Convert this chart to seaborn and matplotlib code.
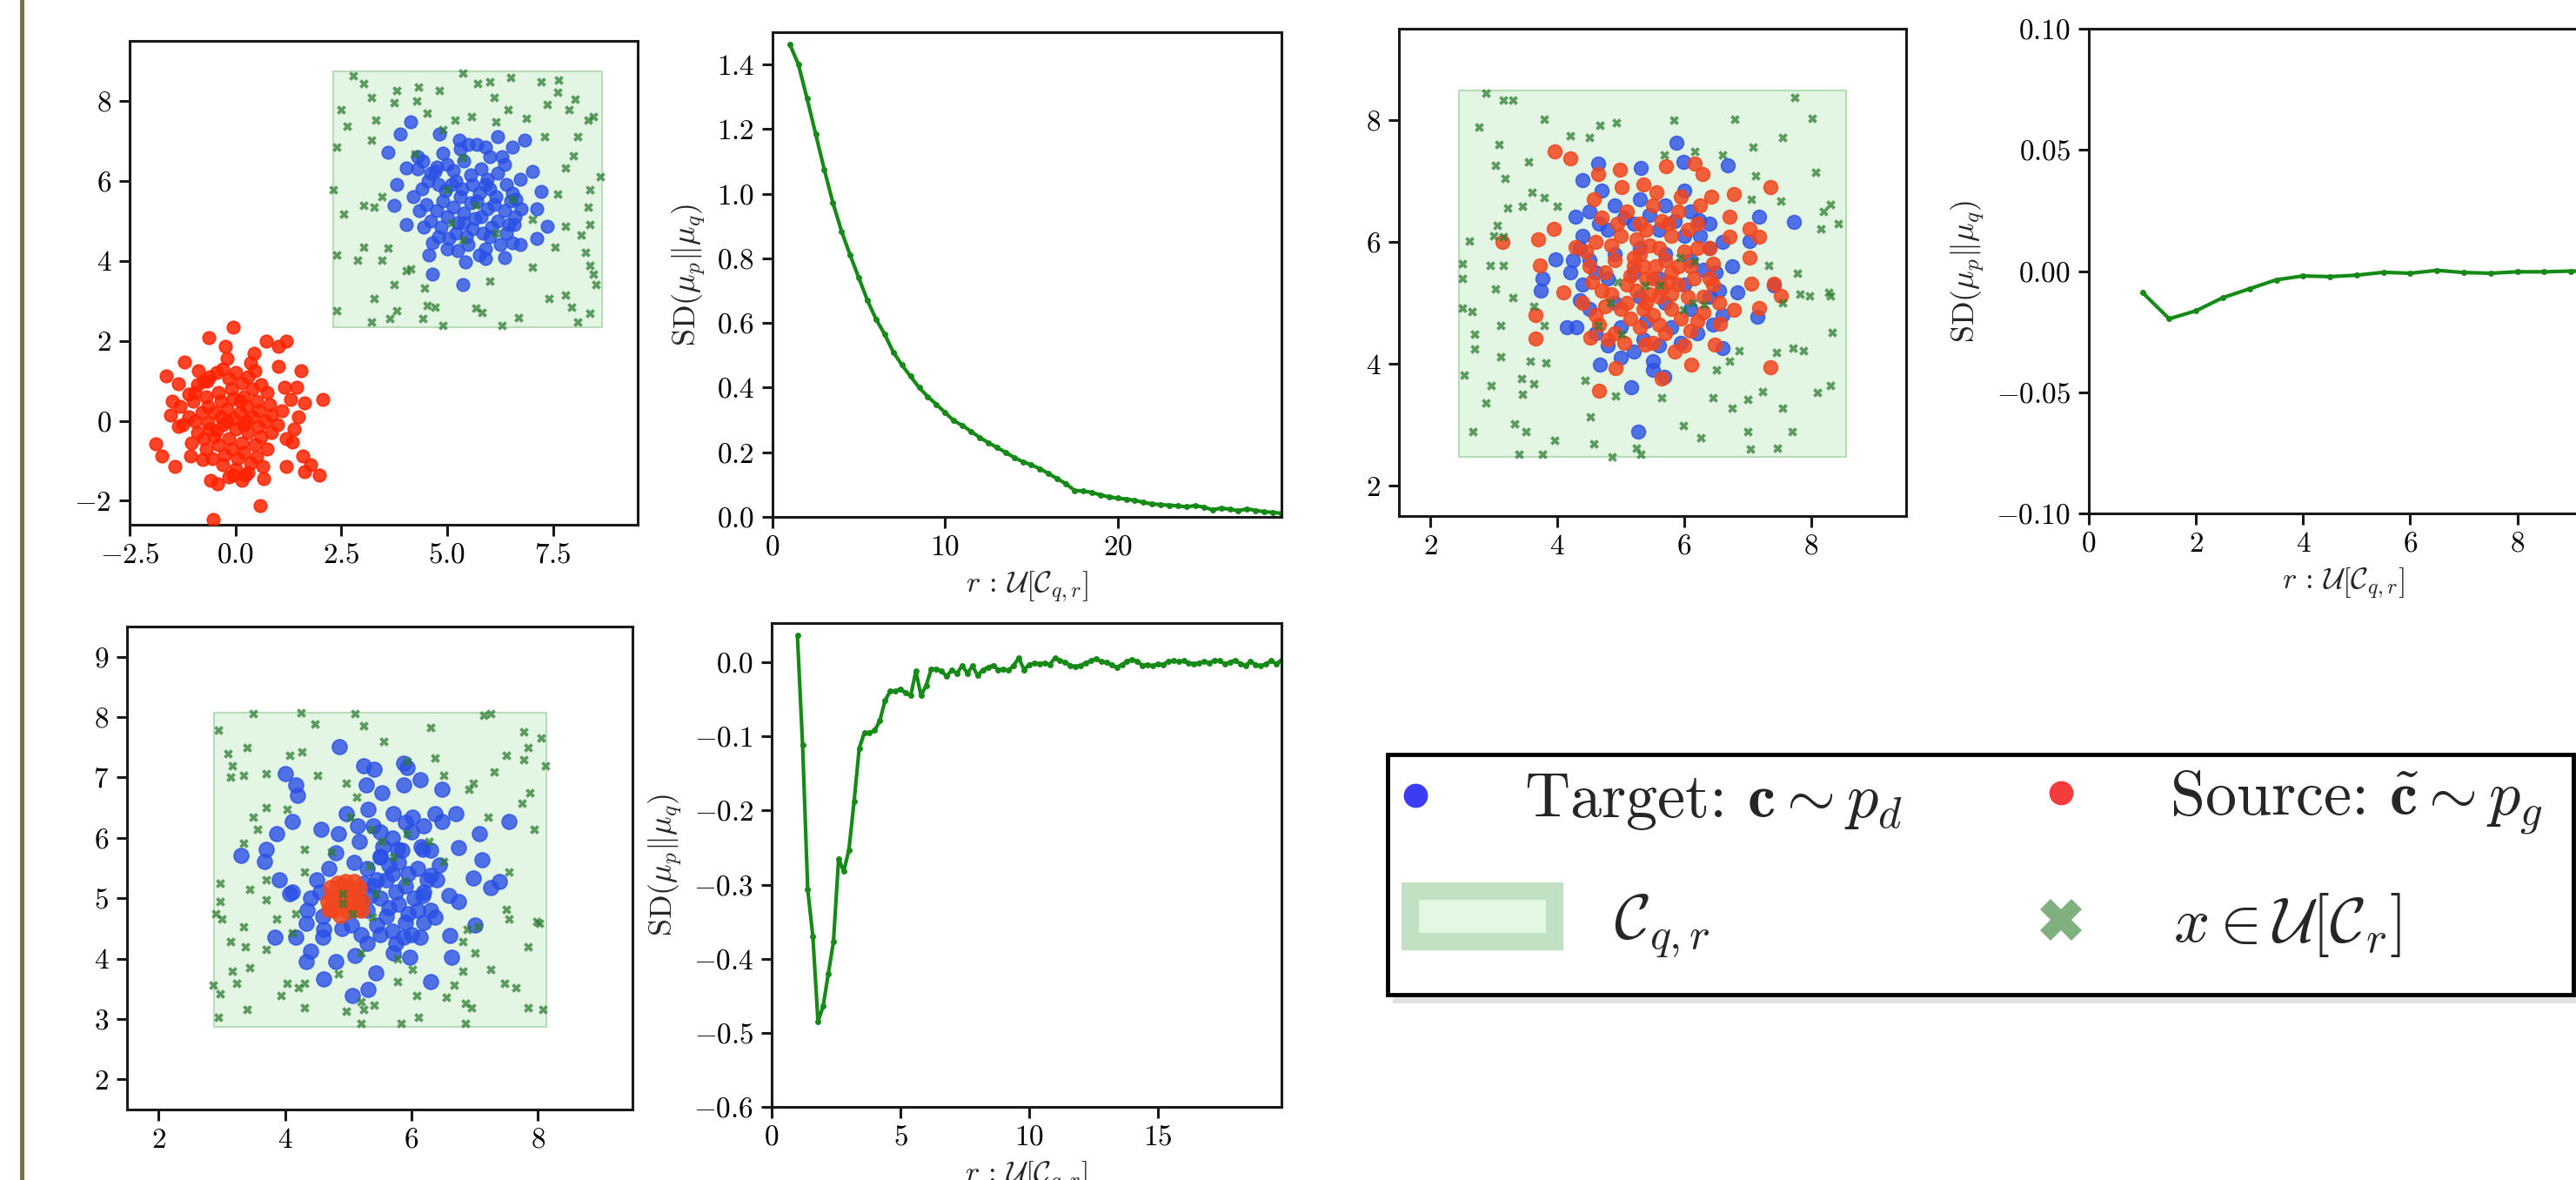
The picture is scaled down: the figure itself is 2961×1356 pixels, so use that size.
import numpy as np
import seaborn as sns
import matplotlib.pyplot as plt
from matplotlib.patches import Rectangle, Patch
from matplotlib.lines import Line2D

# ---------------- data ----------------
# panel 1 : separated clouds
p1_red = [(-0.62, 2.08), (-0.05, 2.33), (-0.24, 1.86), (0.72, 1.99), (1.01, 1.86), (1.2, 1.99), (0.43, 1.69),
          (-1.2, 1.48), (-1.63, 1.13), (-0.87, 1.26), (-1.35, 0.92), (1.01, 1.35), (1.54, 1.26), (1.15, 0.83),
          (1.44, 0.83), (1.3, 0.53), (1.63, 0.45), (2.07, 0.53), (1.49, 0.1), (1.39, -0.2), (1.35, -0.54),
          (1.59, -0.88), (1.78, -1.1), (1.97, -1.36), (1.63, -1.27), (1.2, -1.14), (0.67, -1.44), (0.24, -1.36),
          (-0.05, -1.36), (-0.43, -1.57), (-0.58, -1.48), (0.58, -2.13), (-0.53, -2.47), (-1.88, -0.58),
          (-1.73, -0.88), (-1.44, -1.14), (-1.49, 0.49), (-1.35, -0.15), (-1.06, -0.88), (-0.77, -0.97),
          (-1.54, 0.14), (-1.11, 0.66), (-0.67, 1.0),
          (-0.9, 0.9), (-0.6, 1.1), (-0.3, 1.3), (0.0, 1.2), (0.3, 1.1), (0.6, 0.9), (-1.0, 0.5), (-0.7, 0.6),
          (-0.4, 0.7), (-0.1, 0.8), (0.2, 0.6), (0.5, 0.5), (0.8, 0.4), (-1.1, 0.1), (-0.8, 0.2), (-0.5, 0.2),
          (-0.2, 0.3), (0.1, 0.2), (0.4, 0.1), (0.7, 0.0), (1.0, -0.1), (-0.9, -0.3), (-0.6, -0.2), (-0.3, -0.1),
          (0.0, -0.2), (0.3, -0.3), (0.6, -0.4), (-0.7, -0.7), (-0.4, -0.6), (-0.1, -0.7), (0.2, -0.8),
          (0.5, -0.9), (-0.3, -1.1), (0.0, -1.2), (0.3, -1.3), (0.1, 0.5), (-0.2, 0.0), (0.2, -0.1),
          (-0.5, -0.4), (0.4, 0.8),
          (-0.75, 1.0), (-0.45, 1.2), (-0.15, 1.05), (0.15, 0.95), (0.45, 1.25), (0.75, 0.7), (-0.95, 0.7),
          (-0.65, 0.35), (-0.35, 0.5), (-0.05, 0.55), (0.25, 0.35), (0.55, 0.25), (0.85, 0.15), (-1.25, -0.1),
          (-0.95, 0.0), (-0.65, -0.05), (-0.35, 0.1), (-0.05, 0.05), (0.25, 0.0), (0.55, -0.15), (0.85, -0.3),
          (-1.05, -0.55), (-0.75, -0.45), (-0.45, -0.25), (-0.15, -0.45), (0.15, -0.55), (0.45, -0.6),
          (0.75, -0.7), (-0.55, -0.95), (-0.25, -0.85), (0.05, -0.95), (0.35, -1.05), (0.65, -1.15),
          (-0.15, -1.4), (0.15, -1.5), (1.1, 0.25), (1.2, -0.45), (-1.3, 0.35), (0.35, 1.45), (-0.2, 1.55)]
p1_blue = [(4.13, 7.48), (3.89, 7.18), (3.61, 6.71), (4.81, 7.18), (5.29, 7.01), (5.91, 6.84), (6.2, 7.1),
           (6.54, 6.84), (6.83, 7.01), (7.02, 6.24), (7.21, 5.73), (7.12, 5.3), (7.36, 4.87), (7.12, 4.57),
           (6.73, 4.4), (6.35, 4.09), (5.91, 4.05), (5.43, 3.97), (4.66, 3.67), (5.38, 3.41), (4.57, 4.14),
           (4.04, 4.91), (3.75, 5.38), (3.8, 5.9), (4.04, 6.33), (4.42, 6.5), (4.71, 6.24), (6.59, 4.91),
           (6.63, 5.55), (6.73, 6.03),
           (4.6, 6.2), (5.0, 6.4), (5.4, 6.5), (5.8, 6.3), (6.2, 6.2), (4.4, 5.8), (4.8, 5.9), (5.2, 6.0),
           (5.6, 5.9), (6.0, 5.8), (6.4, 5.9), (4.5, 5.4), (4.9, 5.5), (5.3, 5.6), (5.7, 5.5), (6.1, 5.4),
           (6.5, 5.5), (4.6, 5.0), (5.0, 5.1), (5.4, 5.2), (5.8, 5.1), (6.2, 5.0), (6.6, 5.1), (4.8, 4.6),
           (5.2, 4.7), (5.6, 4.8), (6.0, 4.6), (6.4, 4.7), (5.0, 4.3), (5.5, 4.4), (5.9, 4.3), (5.3, 6.8),
           (5.7, 6.9), (6.3, 6.6), (4.3, 6.6),
           (4.75, 6.35), (5.15, 6.25), (5.55, 6.15), (5.95, 6.05), (6.35, 6.4), (4.55, 6.0), (4.95, 5.75),
           (5.35, 5.8), (5.75, 5.7), (6.15, 5.6), (6.55, 5.7), (4.35, 5.25), (4.75, 5.25), (5.15, 5.35),
           (5.55, 5.45), (5.95, 5.3), (6.35, 5.25), (6.75, 5.3), (4.45, 4.85), (4.85, 4.85), (5.25, 4.95),
           (5.65, 5.05), (6.05, 4.85), (6.45, 4.9), (4.65, 4.45), (5.05, 4.55), (5.45, 4.6), (5.85, 4.7),
           (6.25, 4.4), (5.25, 4.25), (5.75, 4.15), (4.9, 6.7), (5.5, 6.9), (6.0, 6.6), (5.1, 5.9), (5.9, 5.9),
           (5.4, 4.95), (6.55, 4.45), (4.2, 5.6), (4.3, 6.3)]
p1_green = [(2.79, 8.64), (3.03, 8.43), (3.22, 8.09), (3.8, 8.26), (4.33, 8.34), (4.81, 8.26), (5.38, 8.69),
            (5.72, 8.43), (6.01, 8.47), (6.49, 8.58), (7.21, 8.47), (7.64, 8.52), (7.6, 8.21), (8.03, 8.04),
            (8.32, 7.53), (8.46, 7.61), (7.36, 7.91), (7.88, 7.79), (6.88, 7.57), (6.44, 7.79), (6.11, 8.09),
            (6.15, 7.48), (5.58, 7.61), (5.19, 7.53), (4.52, 7.7), (4.28, 8.0), (3.75, 7.96), (3.32, 7.53),
            (2.5, 7.79), (2.64, 7.36), (2.4, 6.84), (3.22, 7.01), (7.31, 7.1), (8.08, 7.1), (7.98, 6.63),
            (7.79, 6.33), (8.61, 6.11), (7.6, 5.68), (8.37, 5.77), (8.32, 5.34), (8.37, 4.91), (8.17, 4.65),
            (8.27, 4.22), (8.37, 3.88), (8.46, 3.67), (8.51, 3.41), (7.79, 3.15), (7.4, 3.06), (7.93, 2.85),
            (8.37, 2.68), (8.08, 2.46), (6.68, 2.59), (6.3, 2.39), (5.82, 2.72), (5.67, 2.81), (4.9, 2.38),
            (4.71, 2.85), (4.52, 2.89), (4.42, 2.55), (3.8, 2.76), (3.65, 2.55), (3.22, 2.46), (3.27, 3.06),
            (2.4, 2.76), (3.75, 3.41), (4.47, 3.32), (4.04, 3.75), (4.13, 3.79), (6.01, 3.49), (7.02, 3.84),
            (7.55, 4.35), (2.4, 4.14), (2.88, 4.01), (3.46, 4.01), (3.03, 4.35), (3.61, 4.31), (2.31, 5.77),
            (3.03, 5.38), (3.27, 5.34), (3.46, 5.6), (2.55, 5.17), (5.0, 5.77), (5.67, 5.38), (5.1, 4.95),
            (5.38, 4.52), (4.23, 6.67), (5.38, 6.58), (4.9, 7.27), (6.54, 5.55), (7.02, 5.04), (7.79, 4.87),
            (6.15, 4.7)]
p1_box = (2.3, 8.65, 2.35, 8.73)

# panel 3 : overlapping clouds
p3_blue = [(5.88, 7.63), (5.99, 7.32), (6.69, 7.26), (5.31, 7.21), (4.4, 7.01), (4.64, 7.29), (7.18, 6.42),
           (7.73, 6.33), (4.28, 6.42), (3.97, 5.71), (3.76, 5.4), (3.73, 5.2), (4.15, 4.6), (4.67, 3.98),
           (5.16, 3.61), (5.28, 2.88), (5.5, 3.9), (5.68, 3.78), (6.6, 4.26), (7.15, 4.77), (7.42, 5.28),
           (6.84, 5.17), (7.03, 6.02), (6.23, 6.36),
           (4.5, 6.5), (4.9, 6.6), (5.3, 6.7), (5.7, 6.6), (6.1, 6.5), (6.4, 6.3), (4.4, 6.1), (4.8, 6.2),
           (5.2, 6.3), (5.6, 6.2), (6.0, 6.1), (6.4, 5.9), (4.5, 5.7), (4.9, 5.8), (5.3, 5.9), (5.7, 5.8),
           (6.1, 5.7), (6.5, 5.5), (4.4, 5.3), (4.8, 5.4), (5.2, 5.5), (5.6, 5.4), (6.0, 5.3), (6.4, 5.1),
           (4.5, 4.9), (4.9, 5.0), (5.3, 5.1), (5.7, 5.0), (6.1, 4.9), (4.6, 4.5), (5.0, 4.6), (5.4, 4.7),
           (5.8, 4.6), (6.2, 4.5), (5.2, 4.2), (5.6, 4.3), (4.3, 4.6), (6.6, 4.8), (4.2, 5.5), (6.6, 6.0),
           (4.65, 6.3), (5.05, 6.4), (5.45, 6.45), (5.85, 6.35), (6.25, 6.1), (4.35, 5.9), (6.55, 5.2),
           (4.35, 5.05), (6.45, 4.65), (4.8, 4.3), (5.35, 4.4), (5.95, 4.35), (5.5, 4.05), (4.7, 6.85),
           (6.0, 6.85), (6.3, 5.55), (4.25, 5.7), (5.0, 4.1), (6.75, 5.6), (4.6, 5.5)]
p3_red = [(3.95, 7.49), (4.2, 7.37), (4.64, 7.12), (4.98, 7.18), (5.71, 7.24), (6.16, 7.29), (6.29, 7.12),
          (6.42, 6.75), (6.78, 6.78), (7.36, 6.9), (6.72, 6.42), (7.03, 6.22), (7.18, 6.08), (7.03, 5.74),
          (6.72, 6.08), (7.06, 5.31), (7.42, 5.31), (7.52, 5.11), (7.18, 4.92), (6.78, 4.89), (6.57, 4.66),
          (6.48, 4.32), (7.36, 3.95), (6.11, 3.98), (5.65, 3.76), (4.92, 3.93), (4.65, 3.56), (3.66, 4.41),
          (3.65, 4.8), (3.72, 5.62), (3.69, 6.05), (3.94, 6.22), (3.13, 6.0), (4.09, 5.17), (4.28, 5.91),
          (4.58, 6.7), (5.01, 6.9), (5.56, 6.81), (5.38, 4.32), (4.52, 4.43),
          (4.7, 6.4), (5.1, 6.5), (5.5, 6.6), (5.9, 6.5), (6.2, 6.3), (4.6, 6.0), (5.0, 6.1), (5.4, 6.2),
          (5.8, 6.1), (6.2, 5.9), (4.5, 5.6), (4.9, 5.7), (5.3, 5.8), (5.7, 5.7), (6.1, 5.6), (6.4, 5.4),
          (4.7, 5.2), (5.1, 5.3), (5.5, 5.4), (5.9, 5.3), (6.3, 5.1), (4.6, 4.8), (5.0, 4.9), (5.4, 5.0),
          (5.8, 4.9), (6.2, 4.7), (4.9, 4.5), (5.3, 4.6), (5.7, 4.5), (6.0, 4.3), (5.2, 5.6), (5.6, 5.1),
          (5.6, 5.9), (5.9, 5.6), (5.1, 5.0), (5.4, 5.4), (5.8, 5.5), (5.5, 4.8), (4.4, 5.0), (4.8, 4.4),
          (6.4, 5.9), (5.3, 6.3),
          (5.25, 6.05), (5.65, 6.35), (6.05, 6.2), (4.85, 5.95), (5.45, 5.95), (6.0, 5.85), (4.75, 5.5),
          (5.15, 5.45), (5.35, 5.6), (5.75, 5.35), (6.15, 5.4), (6.45, 5.65), (4.85, 5.15), (5.25, 5.2),
          (5.45, 5.15), (5.65, 5.25), (6.05, 5.1), (6.45, 5.3), (4.75, 4.95), (5.15, 4.75), (5.35, 4.9),
          (5.6, 4.65), (5.95, 4.75), (6.3, 4.85), (5.05, 4.35), (5.5, 4.35), (5.85, 4.2), (4.55, 5.35),
          (4.45, 5.85), (6.55, 5.0), (5.95, 6.75), (5.35, 6.95), (4.95, 6.3), (5.75, 6.3), (6.25, 6.6),
          (5.55, 5.6), (5.2, 5.75), (5.8, 5.15), (6.1, 4.55), (4.65, 4.65)]
p3_green = [(2.87, 8.45), (3.14, 8.33), (3.3, 8.33), (2.76, 7.88), (3.79, 8.01), (4.67, 7.92), (4.93, 7.96),
            (5.83, 8.0), (6.8, 8.02), (7.75, 8.37), (8.02, 8.03), (7.55, 7.72), (7.08, 7.56), (8.07, 7.15),
            (7.12, 7.09), (6.6, 7.43), (6.17, 7.49), (5.68, 7.43), (3.08, 7.6), (4.21, 7.75), (4.51, 7.72),
            (3.02, 7.26), (3.17, 7.04), (3.54, 7.32), (3.6, 6.81), (3.79, 6.73), (3.45, 6.59), (3.22, 6.56),
            (4.0, 6.59), (3.05, 6.27), (2.99, 6.1), (2.61, 6.02), (3.14, 6.08), (2.5, 5.65), (2.94, 5.62),
            (3.14, 5.62), (2.5, 5.4), (3.02, 5.23), (3.3, 5.09), (2.5, 4.92), (2.65, 4.86), (3.63, 4.94),
            (3.11, 4.63), (3.79, 4.63), (2.69, 4.49), (2.69, 4.24), (3.11, 4.12), (2.53, 3.81), (3.57, 4.04),
            (3.82, 4.01), (3.43, 3.76), (3.63, 3.67), (3.45, 3.5), (2.87, 3.36), (2.95, 3.64), (2.67, 2.88),
            (3.33, 3.02), (3.51, 2.88), (3.96, 2.75), (3.39, 2.52), (3.77, 2.52), (4.58, 2.68), (4.86, 2.47),
            (5.24, 2.62), (5.32, 2.52), (4.52, 3.13), (4.92, 3.47), (4.43, 3.73), (5.65, 3.44), (5.99, 2.99),
            (6.26, 2.79), (6.45, 3.44), (6.75, 3.27), (7.0, 3.42), (7.23, 3.55), (7.55, 3.27), (7.0, 2.88),
            (7.7, 2.88), (7.04, 2.6), (7.47, 2.62), (8.1, 3.53), (8.31, 3.64), (8.34, 4.52), (7.71, 4.26),
            (7.88, 4.21), (7.46, 4.18), (6.87, 4.21), (6.72, 4.04), (6.51, 3.9), (7.82, 5.14), (7.98, 5.11),
            (8.28, 5.17), (8.31, 5.11), (7.79, 5.48), (7.33, 5.62), (7.55, 5.0), (8.16, 6.22), (8.43, 6.3),
            (8.19, 6.5), (8.31, 6.61), (7.52, 6.67), (7.06, 6.7), (5.93, 5.74), (5.38, 5.28), (5.62, 5.28),
            (4.95, 5.34), (4.83, 5.0), (6.17, 5.68), (6.32, 4.97), (4.64, 4.63), (5.01, 4.49), (5.99, 4.89),
            (6.14, 5.0)]
p3_box = (2.45, 8.55, 2.47, 8.48)

# panel 5 : collapsed source
p5_red = [(4.94, 5.01), (4.8, 5.1), (5.05, 5.15), (4.85, 4.9), (5.05, 4.88), (4.75, 5.0), (5.15, 5.0),
          (4.9, 5.22), (5.0, 4.78), (4.72, 5.18), (5.18, 5.18), (4.78, 4.8), (5.12, 4.82), (4.95, 5.28),
          (4.68, 4.95), (5.22, 4.95), (4.88, 4.72), (5.0, 5.1), (4.9, 4.95), (5.08, 5.05), (4.83, 5.25),
          (5.1, 5.28), (4.7, 4.82), (5.2, 4.8)]
p5_blue = [(4.86, 7.51), (5.24, 7.2), (5.41, 7.13), (5.88, 7.23), (5.94, 7.17), (4.0, 7.07), (4.17, 6.87),
           (4.2, 6.7), (5.28, 6.87), (5.54, 6.74), (5.88, 6.87), (6.14, 6.97), (6.48, 6.8), (3.87, 6.07),
           (4.11, 6.27), (3.7, 5.81), (3.3, 5.71), (3.67, 5.61), (7.55, 6.27), (7.08, 6.07), (6.75, 5.84),
           (7.12, 5.64), (7.39, 5.28), (7.25, 5.18), (6.98, 5.34), (6.75, 4.95), (7.01, 4.55), (6.61, 4.38),
           (6.64, 4.02), (6.31, 3.62), (5.98, 4.02), (5.71, 4.09), (5.44, 3.76), (5.31, 3.49), (5.07, 3.39),
           (4.61, 3.66), (4.34, 3.95), (4.41, 4.12), (4.17, 4.35), (3.84, 4.35), (4.34, 4.58), (4.61, 4.48),
           (4.11, 5.11), (3.91, 5.31), (4.07, 5.08), (4.81, 3.95), (5.11, 4.05), (5.88, 4.35), (6.14, 4.35),
           (6.38, 4.68), (6.18, 5.05), (6.31, 5.38), (6.18, 5.81), (5.78, 5.81), (5.51, 5.68), (5.18, 5.94),
           (4.84, 6.07), (4.57, 6.14), (4.97, 6.4), (5.31, 6.47), (5.71, 6.4), (6.01, 6.34), (6.38, 6.4),
           (6.48, 6.27), (6.71, 6.4),
           (5.5, 5.7), (5.8, 5.6), (6.1, 5.5), (5.6, 5.3), (5.9, 5.2), (6.2, 5.1), (5.5, 5.0), (5.8, 4.9),
           (6.1, 4.8), (5.6, 4.7), (5.9, 4.6), (5.3, 5.5), (5.4, 5.2), (5.3, 4.8), (5.7, 6.0), (6.0, 6.1),
           (5.4, 6.2), (6.3, 5.8), (6.4, 5.3), (6.3, 4.8), (4.5, 5.3), (4.4, 5.0), (4.6, 4.7), (4.9, 4.5),
           (5.2, 4.4), (5.5, 4.4), (6.0, 4.4), (4.7, 5.5), (5.1, 5.6), (5.7, 5.4),
           (5.65, 5.55), (5.95, 5.4), (6.25, 5.3), (5.45, 5.3), (5.75, 5.1), (6.05, 5.0), (5.35, 5.05),
           (5.65, 4.85), (5.95, 4.75), (6.2, 4.6), (5.45, 4.55), (5.7, 4.45), (5.55, 5.85), (5.85, 5.8),
           (6.15, 5.85), (5.25, 5.25), (5.2, 4.95), (5.5, 6.1), (5.9, 6.25), (6.2, 6.2), (4.55, 5.1),
           (4.6, 4.35), (5.05, 4.55), (5.3, 4.25), (5.75, 4.25), (6.45, 5.55), (6.6, 5.05), (4.35, 4.8),
           (4.8, 5.75), (5.15, 6.2)]
p5_green = [(2.94, 7.79), (3.5, 8.06), (4.25, 8.07), (4.47, 7.89), (5.11, 8.06), (5.24, 7.85), (5.56, 7.6),
            (6.31, 7.83), (7.15, 8.03), (7.25, 8.06), (7.78, 7.76), (8.05, 7.66), (7.85, 7.5), (8.12, 7.2),
            (7.51, 7.36), (7.78, 7.3), (7.31, 7.1), (6.98, 6.9), (6.91, 6.8), (7.88, 6.74), (7.75, 6.57),
            (7.95, 6.14), (7.21, 6.34), (6.51, 7.03), (6.38, 7.33), (5.94, 7.26), (4.27, 7.43), (4.07, 7.36),
            (3.4, 7.5), (3.1, 7.4), (3.17, 7.2), (3.34, 7.03), (3.14, 7.0), (3.7, 7.07), (4.51, 7.03),
            (4.97, 6.9), (5.14, 6.67), (5.04, 6.34), (4.04, 6.47), (3.7, 6.5), (3.5, 6.34), (3.34, 5.91),
            (3.57, 6.14), (4.31, 5.81), (4.74, 5.77), (4.31, 5.44), (3.7, 5.31), (3.44, 5.15), (2.97, 5.25),
            (2.97, 4.95), (2.9, 4.75), (3.0, 4.65), (3.34, 4.52), (3.87, 4.65), (4.17, 4.75), (3.7, 4.98),
            (3.14, 4.28), (3.37, 4.19), (3.7, 4.15), (4.11, 4.42), (3.17, 3.79), (3.44, 3.85), (2.87, 3.56),
            (2.97, 3.42), (3.24, 3.59), (4.04, 3.59), (4.21, 3.52), (4.31, 3.59), (3.4, 3.16), (2.94, 3.03),
            (3.94, 3.39), (4.31, 3.19), (4.84, 3.75), (4.97, 3.13), (5.21, 3.29), (5.24, 3.16), (5.21, 2.93),
            (5.41, 3.23), (5.84, 2.93), (6.11, 3.03), (5.78, 3.62), (6.08, 3.39), (6.55, 3.36), (6.68, 3.56),
            (6.85, 3.26), (6.95, 3.19), (6.85, 2.93), (7.25, 3.82), (7.48, 3.59), (7.65, 3.52), (7.85, 3.19),
            (8.08, 3.16), (7.85, 4.19), (7.51, 4.81), (7.55, 4.65), (7.98, 4.62), (8.02, 4.58), (7.55, 5.44),
            (7.05, 4.52), (6.88, 4.48), (6.81, 4.28), (7.01, 4.09), (6.81, 3.79), (6.01, 3.82), (5.78, 3.99),
            (5.71, 5.68), (5.54, 5.94), (5.34, 5.54), (5.37, 6.14), (5.94, 6.07), (6.28, 5.94), (6.51, 5.61),
            (5.91, 5.28), (5.44, 5.08), (4.91, 5.08), (4.91, 4.91), (5.07, 4.75), (5.38, 4.68), (5.21, 4.09)]
p5_box = (2.88, 8.13, 2.87, 8.08)

# panel 2 : SD vs r, separated clouds
p2_r = [1.0, 1.5, 2.0, 2.5, 3.0, 3.5, 4.0, 4.5, 5.0, 5.5, 6.0, 6.5, 7.0, 7.5, 8.0, 8.5, 9.0, 9.5, 10.0,
        10.5, 11.0, 11.5, 12.0, 12.5, 13.0, 13.5, 14.0, 14.5, 15.0, 15.5, 16.0, 16.5, 17.0, 17.5, 18.0,
        18.5, 19.0, 19.5, 20.0, 20.5, 21.0, 21.5, 22.0, 22.5, 23.0, 23.5, 24.0, 24.5, 25.0, 25.5, 26.0,
        26.5, 27.0, 27.5, 28.0, 28.5, 29.0, 29.5]
p2_sd = [1.463, 1.40, 1.295, 1.185, 1.075, 0.972, 0.884, 0.81, 0.74, 0.67, 0.612, 0.565, 0.51, 0.47,
         0.435, 0.40, 0.372, 0.348, 0.323, 0.298, 0.283, 0.265, 0.246, 0.23, 0.215, 0.20, 0.184, 0.171,
         0.161, 0.149, 0.134, 0.118, 0.103, 0.082, 0.080, 0.076, 0.068, 0.062, 0.058, 0.055, 0.051, 0.045,
         0.040, 0.038, 0.036, 0.034, 0.031, 0.035, 0.030, 0.022, 0.027, 0.024, 0.019, 0.025, 0.020, 0.016,
         0.014, 0.011]

# panel 4 : SD vs r, overlapping clouds
p4_r = [1.0, 1.5, 2.0, 2.5, 3.0, 3.5, 4.0, 4.5, 5.0, 5.5, 6.0, 6.5, 7.0, 7.5, 8.0, 8.5, 9.0, 9.5]
p4_sd = [-0.0088, -0.0197, -0.0164, -0.011, -0.0073, -0.0036, -0.002, -0.0023, -0.0017, -0.0005, -0.0009,
         0.0003, -0.0006, -0.0009, -0.0003, -0.0003, 0.0, -0.0001]

# panel 6 : SD vs r, collapsed source
p6_r = [1.0, 1.2, 1.4, 1.6, 1.8, 2.0, 2.2, 2.4, 2.6, 2.8, 3.0, 3.2, 3.4, 3.6, 3.8, 4.0, 4.2, 4.4, 4.6, 4.8,
        5.0, 5.2, 5.4, 5.6, 5.8, 6.0, 6.2, 6.4, 6.6, 6.8, 7.0, 7.2, 7.4, 7.6, 7.8, 8.0, 8.2, 8.4, 8.6, 8.8,
        9.0, 9.2, 9.4, 9.6, 9.8, 10.0, 10.2, 10.4, 10.6, 10.8, 11.0, 11.2, 11.4, 11.6, 11.8, 12.0, 12.2,
        12.4, 12.6, 12.8, 13.0, 13.2, 13.4, 13.6, 13.8, 14.0, 14.2, 14.4, 14.6, 14.8, 15.0, 15.2, 15.4,
        15.6, 15.8, 16.0, 16.2, 16.4, 16.6, 16.8, 17.0, 17.2, 17.4, 17.6, 17.8, 18.0, 18.2, 18.4, 18.6,
        18.8, 19.0, 19.2, 19.4, 19.6, 19.8]
p6_sd = [0.036, -0.111, -0.306, -0.370, -0.485, -0.464, -0.420, -0.377, -0.265, -0.282, -0.253, -0.188,
         -0.116, -0.095, -0.095, -0.092, -0.079, -0.052, -0.039, -0.039, -0.036, -0.041, -0.045, -0.012,
         -0.045, -0.031, -0.009, -0.009, -0.012, -0.019, -0.010, -0.015, -0.004, -0.015, -0.005, -0.018,
         -0.010, -0.007, -0.004, -0.010, -0.009, -0.011, -0.004, 0.006, -0.010, -0.003, -0.001, -0.002,
         -0.001, -0.003, 0.006, 0.002, 0.000, -0.004, -0.006, -0.004, -0.001, 0.002, 0.005, 0.001, 0.000,
         -0.003, -0.007, -0.003, 0.001, 0.004, 0.001, -0.004, -0.003, -0.005, -0.002, -0.003, 0.001, 0.002,
         0.001, 0.002, -0.001, -0.002, -0.001, 0.001, -0.001, 0.003, 0.002, -0.002, 0.000, 0.003, -0.002,
         -0.004, 0.001, -0.003, -0.005, -0.002, 0.002, -0.002, 0.003]

legend_labels = [r'Target: $\mathbf{c} \sim p_d$', r'Source: $\tilde{\mathbf{c}} \sim p_g$',
                 r'$\mathcal{C}_{q,r}$', r'$x \in \mathcal{U}[\mathcal{C}_r]$']

# ---------------- style ----------------
sns.set_style('white')
plt.rcParams['font.family'] = 'serif'
plt.rcParams['font.serif'] = ['cmr10']
plt.rcParams['mathtext.fontset'] = 'cm'
plt.rcParams['axes.formatter.use_mathtext'] = True

BLUE = '#2a50e6'
RED = '#ff2200'
RED2 = '#f2461e'
GREEN_PT = '#2e7d32'
BOX_FACE = '#e3f6e3'
BOX_EDGE = '#b8dcb8'
LINE_G = '#168a16'
W, H = 2961, 1356


def pos(x0, y0, x1, y1):
    return [x0 / W, 1 - y1 / H, (x1 - x0) / W, (y1 - y0) / H]


def style_axes(ax):
    for s in ax.spines.values():
        s.set_linewidth(2.2)
        s.set_color('#1a1a1a')
    ax.tick_params(axis='both', which='major', labelsize=24, length=9, width=2.2, pad=6,
                   direction='out', bottom=True, left=True, colors='#1a1a1a', labelcolor='black')
    ax.set_xlabel('')
    ax.set_ylabel('')


def scatter_panel(ax, box, blue, red, green, size, red_col):
    ax.add_patch(Rectangle((box[0], box[2]), box[1] - box[0], box[3] - box[2],
                           facecolor=BOX_FACE, edgecolor=BOX_EDGE, lw=1.5, zorder=0.5))
    b = np.array(blue)
    r = np.array(red)
    g = np.array(green)
    sns.scatterplot(x=b[:, 0], y=b[:, 1], ax=ax, s=size, color=BLUE, alpha=0.8,
                    edgecolor=BLUE, linewidth=1.2, zorder=2)
    sns.scatterplot(x=r[:, 0], y=r[:, 1], ax=ax, s=size, color=red_col, alpha=0.85,
                    edgecolor=red_col, linewidth=1.2, zorder=3)
    sns.scatterplot(x=g[:, 0], y=g[:, 1], ax=ax, s=60, marker='X', color=GREEN_PT, alpha=0.75,
                    linewidth=0, zorder=4)
    style_axes(ax)


def line_panel(ax, xs, ys):
    sns.lineplot(x=xs, y=ys, ax=ax, color=LINE_G, linewidth=3.0, marker='o', markersize=5,
                 markeredgewidth=0, estimator=None, sort=False)
    style_axes(ax)
    ax.set_ylabel(r'$\mathrm{SD}(\mu_p\|\mu_q)$', fontsize=26, labelpad=8)
    ax.set_xlabel(r'$r\,:\,\mathcal{U}\left[\mathcal{C}_{q,r}\right]$', fontsize=25, labelpad=8)


fig = plt.figure(figsize=(W / 100, H / 100), dpi=100)

# panel 1
ax1 = fig.add_axes(pos(149, 47, 733, 603))
scatter_panel(ax1, p1_box, p1_blue, p1_red, p1_green, 110, RED)
ax1.set_xlim(-2.5, 9.5)
ax1.set_ylim(-2.6, 9.5)
ax1.set_xticks([-2.5, 0.0, 2.5, 5.0, 7.5])
ax1.set_yticks([-2, 0, 2, 4, 6, 8])

# panel 2
ax2 = fig.add_axes(pos(888, 37, 1473, 594))
line_panel(ax2, p2_r, p2_sd)
ax2.set_xlim(0, 29.5)
ax2.set_ylim(0, 1.5)
ax2.set_xticks([0, 10, 20])
ax2.set_yticks([0.0, 0.2, 0.4, 0.6, 0.8, 1.0, 1.2, 1.4])

# panel 3
ax3 = fig.add_axes(pos(1608, 33, 2191, 593))
scatter_panel(ax3, p3_box, p3_blue, p3_red, p3_green, 130, RED2)
ax3.set_xlim(1.5, 9.5)
ax3.set_ylim(1.5, 9.5)
ax3.set_xticks([2, 4, 6, 8])
ax3.set_yticks([2, 4, 6, 8])

# panel 4 (runs past the right edge of the picture)
ax4 = fig.add_axes(pos(2401, 33, 2986, 590))
line_panel(ax4, p4_r, p4_sd)
ax4.set_xlim(0, 9.5)
ax4.set_ylim(-0.1, 0.1)
ax4.set_xticks([0, 2, 4, 6, 8])
ax4.set_yticks([-0.10, -0.05, 0.00, 0.05, 0.10])

# panel 5
ax5 = fig.add_axes(pos(146, 720, 727, 1275))
scatter_panel(ax5, p5_box, p5_blue, p5_red, p5_green, 150, RED2)
ax5.set_xlim(1.5, 9.5)
ax5.set_ylim(1.5, 9.5)
ax5.set_xticks([2, 4, 6, 8])
ax5.set_yticks([2, 3, 4, 5, 6, 7, 8, 9])

# panel 6
ax6 = fig.add_axes(pos(887, 716, 1473, 1272))
line_panel(ax6, p6_r, p6_sd)
ax6.set_xlim(0, 19.8)
ax6.set_ylim(-0.6, 0.053)
ax6.set_xticks([0, 5, 10, 15])
ax6.set_yticks([-0.6, -0.5, -0.4, -0.3, -0.2, -0.1, 0.0])

# left rule
fig.add_artist(Line2D([25 / W, 25 / W], [0, 1], transform=fig.transFigure, color='#787046', lw=3.6))

# legend frame with a soft shadow
fx0, fy0, fx1, fy1 = 1595, 867, 2958, 1143
fig.add_artist(Rectangle(((fx0 + 6) / W, 1 - (fy1 + 10) / H), (fx1 - fx0) / W, (fy1 - fy0) / H,
                         transform=fig.transFigure, facecolor='#bbbbbb', edgecolor='none', alpha=0.45,
                         zorder=1))
fig.add_artist(Rectangle((fx0 / W, 1 - fy1 / H), (fx1 - fx0) / W, (fy1 - fy0) / H,
                         transform=fig.transFigure, facecolor='white', edgecolor='black', lw=3.5,
                         zorder=1.1))

h_blue = Line2D([], [], linestyle='none', marker='o', markersize=19, markerfacecolor='#3c3cf5',
                markeredgecolor='#3c3cf5')
h_red = Line2D([], [], linestyle='none', marker='o', markersize=19, markerfacecolor='#f53c3c',
               markeredgecolor='#f53c3c')
h_box = Patch(facecolor='#e3f8e3', edgecolor='#c2e0c2', linewidth=14.5)
h_x = Line2D([], [], linestyle='none', marker='X', markersize=34, markerfacecolor='#80b080',
             markeredgewidth=0)

FS = 52
entries = [
    (h_blue, legend_labels[0], 1599, 922, 0.78, 0.7, 1.34),
    (h_red, legend_labels[1], 2341, 922, 0.78, 0.7, 1.34),
    (h_box, legend_labels[2], 1621, 1063, 2.3, 0.85, 0.94),
    (h_x, legend_labels[3], 2341, 1063, 0.78, 0.7, 1.4),
]
for h, lab, lx, ly, hl, hh, tp in entries:
    leg = fig.legend(handles=[h], labels=[lab], loc='center left', bbox_to_anchor=(lx / W, 1 - ly / H),
                     bbox_transform=fig.transFigure, frameon=False, fontsize=FS, handlelength=hl,
                     handleheight=hh, handletextpad=tp, borderpad=0, borderaxespad=0)
    leg.set_zorder(3)

fig.savefig('out.png', dpi=100)
